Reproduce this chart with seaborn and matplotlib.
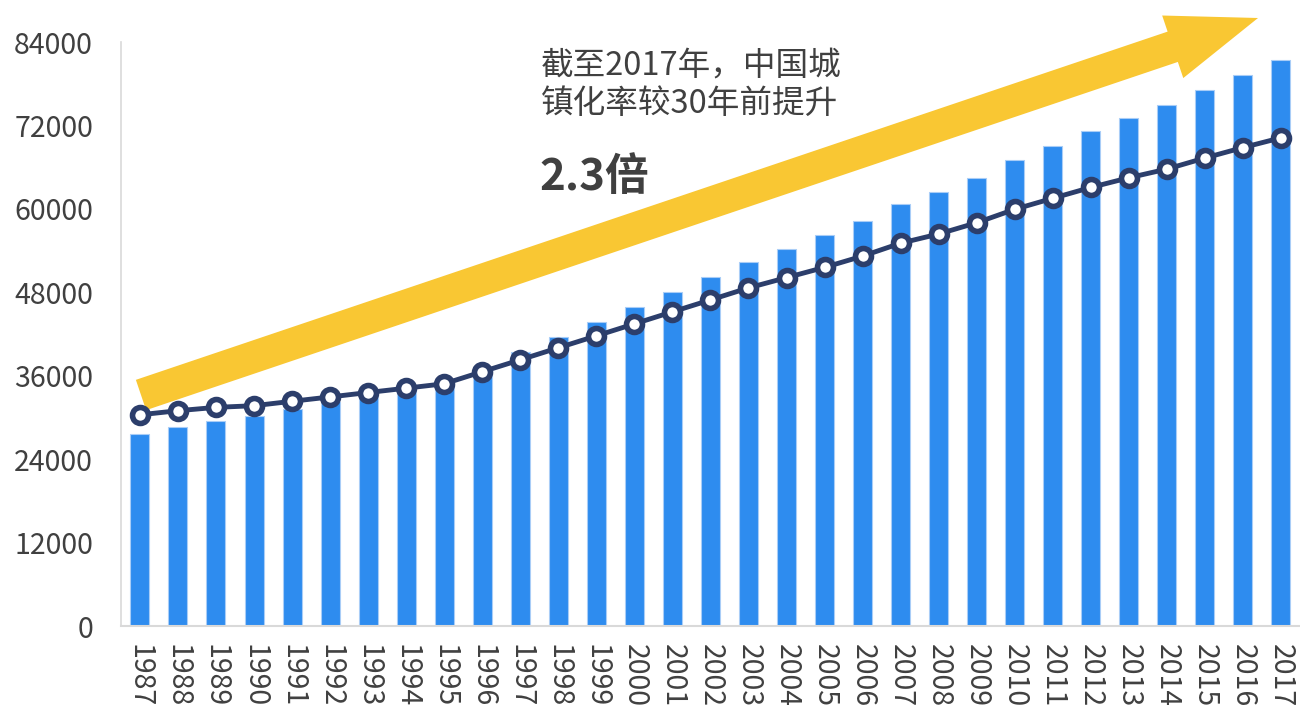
import numpy as np
import pandas as pd
import matplotlib
matplotlib.use("Agg")
import matplotlib.pyplot as plt
import matplotlib.patches as mpatches
import matplotlib.transforms as mtransforms
import seaborn as sns

# urban population (10k people) and urbanization rate (%)
years = [str(y) for y in range(1987, 2018)]
urban_pop = [27674, 28661, 29540, 30195, 31203, 32175, 33173, 34169, 35174, 37304,
             39449, 41608, 43748, 45906, 48064, 50212, 52376, 54283, 56212, 58288,
             60633, 62403, 64512, 66978, 69079, 71182, 73111, 74916, 77116, 79298, 81347]
urban_rate = [25.32, 25.81, 26.21, 26.41, 26.94, 27.46, 27.99, 28.51, 29.04, 30.48,
              31.91, 33.35, 34.78, 36.22, 37.66, 39.09, 40.53, 41.76, 42.99, 44.34,
              45.89, 46.99, 48.34, 49.95, 51.27, 52.57, 53.73, 54.77, 56.10, 57.35, 58.52]
y_ticks = list(range(0, 84001, 12000))
note_lines = ["截至2017年，中国城", "镇化率较30年前提升"]
note_big = "2.3倍"

df = pd.DataFrame({"year": years, "pop": urban_pop, "rate": urban_rate,
                   "pos": np.arange(len(years))})

sns.set_style("white")
plt.rcParams["font.family"] = ["Noto Sans CJK SC", "DejaVu Sans"]
txt_color = "#404040"

fig = plt.figure(figsize=(13, 7.05), dpi=100)
ax = fig.add_axes([0.093, 0.112, 0.907, 0.8284])

sns.barplot(data=df, x="year", y="pop", color="#2E8CEF", width=0.5,
            edgecolor="#A9CDF7", linewidth=0.8, saturation=1, ax=ax)
ax.set_xlim(-0.5, len(years) - 0.5)
ax.set_ylim(0, 84000)
ax.set_yticks(y_ticks)
ax.set_yticklabels([str(v) for v in y_ticks])
ax.tick_params(axis="y", length=0, pad=20, labelsize=20.5, labelcolor=txt_color)
ax.tick_params(axis="x", length=0, pad=13, labelsize=20.5, labelcolor=txt_color,
               labelrotation=270)
ax.set_xlabel("")
ax.set_ylabel("")
for s in ["top", "right"]:
    ax.spines[s].set_visible(False)
ax.spines["left"].set_color("#D9D9D9")
ax.spines["bottom"].set_color("#D9D9D9")
ax.spines["left"].set_linewidth(1.2)
ax.spines["bottom"].set_linewidth(1.5)

# big yellow arrow, drawn in pixel space
arrow = mpatches.FancyArrow(141, 705 - 395, 1117, 377, width=32, head_width=66,
                            head_length=90, length_includes_head=True,
                            color="#F9C733", lw=0, transform=mtransforms.IdentityTransform(),
                            zorder=0.5, clip_on=False)
ax.add_artist(arrow)

ax2 = ax.twinx()
sns.lineplot(data=df, x="pos", y="rate", color="#2C3E6B", linewidth=3.5,
             marker="o", markersize=11.5, markerfacecolor="white",
             markeredgecolor="#2C3E6B", markeredgewidth=4, ax=ax2)
ax2.set_ylim(0, 70)
ax2.set_xlim(-0.5, len(years) - 0.5)
ax2.set_yticks([])
ax2.set_ylabel("")
for s in ax2.spines.values():
    s.set_visible(False)

for line, ypix in zip(note_lines, [65, 104]):
    fig.text(541 / 1300, 1 - ypix / 705, line, fontsize=23.5, color=txt_color,
             ha="left", va="center")
fig.text(539 / 1300, 1 - 177 / 705, note_big, fontsize=31.5, fontweight="bold",
         color=txt_color, ha="left", va="center")

fig.savefig("out.png", dpi=100)
